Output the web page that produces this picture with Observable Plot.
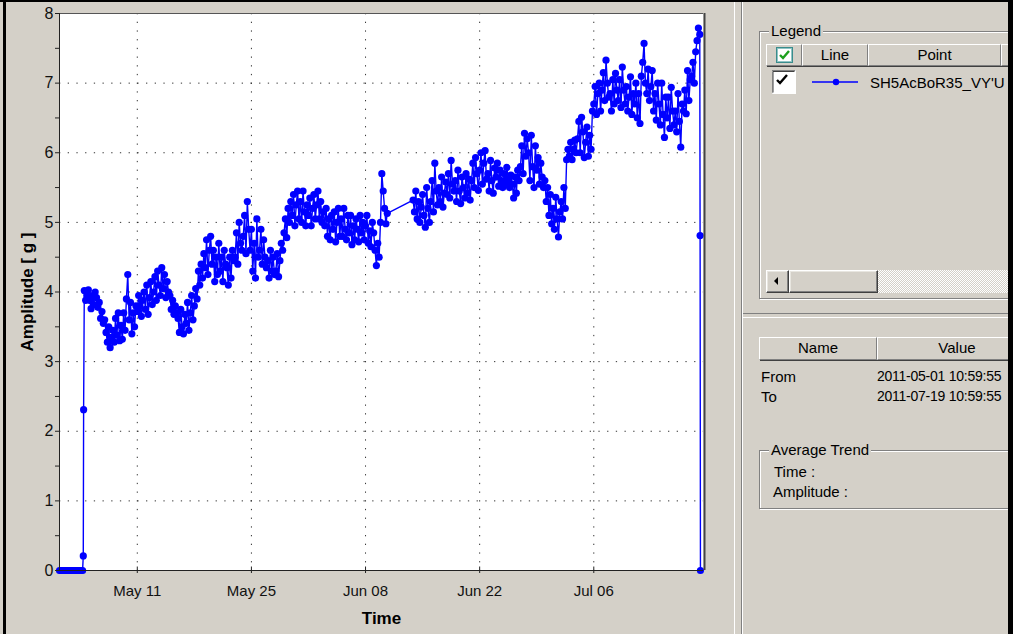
<!DOCTYPE html>
<html><head><meta charset="utf-8">
<script src="https://cdn.jsdelivr.net/npm/d3@7"></script>
<script src="https://cdn.jsdelivr.net/npm/@observablehq/plot@0.6"></script>
<style>
html,body{margin:0;padding:0;background:#d4d0c8;}
#win{position:relative;width:1013px;height:634px;background:#d4d0c8;overflow:hidden;font-family:"Liberation Sans",Arial,sans-serif;font-size:15px;color:#000;}
.a{position:absolute;}
.etch{border:1px solid #808080;box-shadow:1px 1px 0 #fff, inset 1px 1px 0 #fff;}
.hdr{background:#d4d0c8;border-top:1px solid #fff;border-left:1px solid #fff;border-right:1px solid #808080;border-bottom:1px solid #808080;box-shadow:1px 1px 0 #404040;box-sizing:border-box;text-align:center;line-height:19px;}
.btn{background:#d4d0c8;box-sizing:border-box;border:1px solid;border-color:#fff #404040 #404040 #fff;box-shadow:inset -1px -1px 0 #808080, inset 1px 1px 0 #e8e6e0;}
.lbl{background:#d4d0c8;padding:0 2px;white-space:nowrap;line-height:17px;}
.t{white-space:nowrap;line-height:17px;}
.v{white-space:nowrap;line-height:17px;font-size:14px;letter-spacing:-0.25px;}
</style></head>
<body>
<div id="win">
  <div id="chart" class="a" style="left:0;top:0;"></div>

  <!-- pane separators -->
  <div class="a" style="left:734px;top:2px;width:1px;height:632px;background:#fff;"></div>
  <div class="a" style="left:741px;top:2px;width:1px;height:632px;background:#808080;"></div>
  <div class="a" style="left:742px;top:2px;width:1px;height:632px;background:#fff;"></div>
  <div class="a" style="left:743px;top:313px;width:270px;height:1px;background:#808080;"></div>
  <div class="a" style="left:743px;top:317px;width:270px;height:1px;background:#fff;"></div>

  <!-- Legend group -->
  <div class="a etch" style="left:759px;top:31px;width:280px;height:266px;"></div>
  <div class="a lbl" style="left:769px;top:22px;">Legend</div>
  <div class="a hdr" style="left:766px;top:44px;width:36px;height:22px;"></div>
  <svg class="a" style="left:776px;top:47px;" width="17" height="16"><rect x="0.5" y="0.5" width="16" height="15" fill="#fff" stroke="#3a8c8c"/><rect x="1.5" y="1.5" width="14" height="13" fill="none" stroke="#8fc4c4"/><path d="M4 8 L7 11 L13 4" fill="none" stroke="#1ea01e" stroke-width="2.4"/></svg>
  <div class="a hdr" style="left:802px;top:44px;width:66px;height:22px;">Line</div>
  <div class="a hdr" style="left:868px;top:44px;width:133px;height:22px;">Point</div>
  <div class="a hdr" style="left:1001px;top:44px;width:40px;height:22px;"></div>
  <svg class="a" style="left:772px;top:70px;" width="24" height="24"><rect x="0" y="0" width="24" height="24" fill="#fff"/><path d="M0 23.5 V0.5 H23.5" fill="none" stroke="#808080"/><path d="M1 22.5 V1.5 H22.5" fill="none" stroke="#404040"/><path d="M0.5 23.5 H23.5 V0.5" fill="none" stroke="#fff"/><path d="M5 10 L8 13 L15 5" fill="none" stroke="#000" stroke-width="2.4"/></svg>
  <svg class="a" style="left:812px;top:76px;" width="46" height="12"><line x1="0" y1="6" x2="46" y2="6" stroke="#0000ff" stroke-width="1.3"/><circle cx="24" cy="6" r="3.2" fill="#0000ff"/></svg>
  <div class="a t" style="left:870px;top:74px;">SH5AcBoR35_VY'U</div>
  <!-- scrollbar -->
  <div class="a" style="left:878px;top:270px;width:140px;height:23px;background-color:#fff;background-image:repeating-conic-gradient(#d4d0c8 0 25%, #fff 0 50%);background-size:2px 2px;"></div>
  <div class="a btn" style="left:766px;top:270px;width:23px;height:23px;"></div>
  <div class="a" style="left:774px;top:277px;width:0;height:0;border-top:4px solid transparent;border-bottom:4px solid transparent;border-right:4px solid #000;"></div>
  <div class="a btn" style="left:789px;top:270px;width:89px;height:23px;"></div>

  <!-- Lower pane -->
  <div class="a hdr" style="left:759px;top:337px;width:118px;height:23px;line-height:20px;">Name</div>
  <div class="a hdr" style="left:877px;top:337px;width:160px;height:23px;line-height:20px;">Value</div>
  <div class="a t" style="left:761px;top:368px;">From</div>
  <div class="a t" style="left:761px;top:388px;">To</div>
  <div class="a v" style="left:877px;top:368px;">2011-05-01 10:59:55</div>
  <div class="a v" style="left:877px;top:388px;">2011-07-19 10:59:55</div>
  <div class="a etch" style="left:759px;top:450px;width:280px;height:57px;"></div>
  <div class="a lbl" style="left:769px;top:441px;">Average Trend</div>
  <div class="a t" style="left:774px;top:463px;">Time :</div>
  <div class="a t" style="left:773px;top:483px;">Amplitude :</div>

  <!-- window frame -->
  <div class="a" style="left:0;top:0;width:1013px;height:2px;background:#000;"></div>
  <div class="a" style="left:3px;top:0;width:3px;height:634px;background:#000;"></div>
  <div class="a" style="left:1008px;top:0;width:5px;height:634px;background:#000;"></div>
</div>
<script>
// ---- data ----
const rangeFrom = "2011-05-01T10:59:55Z";
const rangeTo = "2011-07-19T10:59:55Z";
const xTickDates = ["2011-05-11", "2011-05-25", "2011-06-08", "2011-06-22", "2011-07-06"];
const yMajorTicks = [0, 1, 2, 3, 4, 5, 6, 7, 8];
const yMinorTicks = [0.5, 1.5, 2.5, 3.5, 4.5, 5.5, 6.5, 7.5];
const yGridLines = [1, 2, 3, 4, 5, 6, 7];

// sensor idle before start (every 4 h from May 1 11:00)
const leadZeros = [0,0,0,0,0,0,0,0,0,0,0,0,0,0,0,0,0,0];
// ramp up, hourly from May 4 09:00
const rampUp = [0.21, 2.31];
// every 4 h from May 4 12:00 to Jun 10 16:00 (one row per day)
const ampMayJun = [
  4.02, 3.88, 3.95,
  4.03, 3.88, 3.76, 3.95, 3.82, 4.0,
  3.92, 3.78, 3.85, 3.62, 3.72, 3.55,
  3.6, 3.42, 3.28, 3.5, 3.2, 3.35,
  3.45, 3.28, 3.62, 3.38, 3.7, 3.3,
  3.52, 3.32, 3.7, 3.45, 3.9, 4.25,
  3.6, 3.85, 3.4, 3.7, 3.5, 3.8,
  3.72, 3.95, 3.8, 3.65, 3.88, 4.0,
  3.75, 4.1, 3.68, 3.92, 4.15, 3.82,
  4.0, 4.22, 3.88, 4.3, 4.1, 3.95,
  4.35, 4.05, 4.25, 3.92, 4.15, 4.0,
  3.95, 3.75, 3.88, 3.68, 3.8, 3.7,
  3.62, 3.42, 3.75, 3.5, 3.4, 3.68,
  3.55, 3.85, 3.45, 3.7, 3.95, 3.6,
  3.8, 4.05, 3.9, 4.3, 4.1, 4.4,
  4.2, 4.55, 4.35, 4.75, 4.25, 4.6,
  4.8, 4.4, 4.6, 4.15, 4.5, 4.25,
  4.7, 4.3, 4.5, 4.15, 4.6, 4.4,
  4.35, 4.1, 4.5, 4.2, 4.6, 4.45,
  4.5, 4.85, 4.4, 5.0, 4.7, 4.6,
  4.8, 5.1, 4.55, 5.3, 4.9, 4.6,
  4.9, 4.3, 4.7, 4.2, 5.05, 4.5,
  4.6, 4.9, 4.4, 4.75, 4.5, 4.35,
  4.45, 4.2, 4.6, 4.3, 4.5, 4.25,
  4.3, 4.55, 4.22, 4.45, 4.7, 4.6,
  4.85, 5.05, 4.78, 5.2, 5.0, 5.3,
  5.1, 5.4, 4.95, 5.25, 5.45, 5.05,
  5.3, 5.0, 5.45, 5.15, 4.95, 5.25,
  5.1, 5.35, 4.95, 5.2, 5.4, 5.05,
  5.25, 5.45, 5.05, 5.3, 5.0, 5.15,
  4.95, 5.2, 4.8, 5.05, 4.75, 5.1,
  4.9, 5.15, 4.72, 5.0, 5.2, 4.8,
  5.05, 4.8, 5.2, 4.9, 4.75, 5.1,
  4.85, 5.1, 4.68, 4.95, 4.75, 5.05,
  4.9, 4.72, 5.1, 4.85, 5.0, 4.75,
  4.95, 5.1, 4.7, 4.88, 4.65, 5.0,
  4.85, 4.6, 4.38, 4.7, 4.5, 5.0,
  5.7, 5.45, 5.2, 4.98, 5.13
];
// every 4 h from Jun 13 20:00 to Jul 19 00:00 (one row per day)
const ampJunJul = [
  5.32,
  5.15, 5.45, 5.05, 5.3, 5.0, 5.22,
  5.4, 5.1, 4.93, 5.5, 5.2, 5.0,
  5.3, 5.6, 5.15, 5.85, 5.45, 5.25,
  5.5, 5.3, 5.65, 5.22, 5.42, 5.58,
  5.4, 5.7, 5.35, 5.89, 5.55, 5.45,
  5.6, 5.3, 5.75, 5.45, 5.27, 5.65,
  5.5, 5.35, 5.7, 5.42, 5.62, 5.32,
  5.6, 5.85, 5.5, 5.93, 5.7, 5.46,
  5.75, 6.0, 5.55, 5.85, 6.03, 5.62,
  5.7, 5.45, 5.89, 5.6, 5.42, 5.78,
  5.65, 5.85, 5.52, 5.75, 5.6, 5.5,
  5.7, 5.55, 5.79, 5.62, 5.5, 5.68,
  5.55, 5.35, 5.65, 5.42, 5.75, 5.6,
  5.8, 6.1, 5.7, 6.28, 5.95, 6.2,
  6.0, 5.6, 6.25, 5.8, 5.5, 6.1,
  5.75, 5.93, 5.55, 5.85, 5.65, 5.5,
  5.6, 5.3, 5.5, 5.1, 5.4, 4.98,
  5.2, 4.9, 5.36, 5.05, 4.79, 5.15,
  5.3, 5.05, 5.5, 5.2, 5.9, 6.05,
  5.95, 6.15, 5.9, 6.05, 6.18, 6.0,
  6.2, 6.45, 6.0, 6.51, 6.3, 5.93,
  6.15, 6.37, 5.95, 6.25, 6.05, 6.6,
  6.7, 6.95, 6.55, 6.85, 7.0, 6.6,
  6.9, 7.15, 6.75, 7.33, 7.0, 6.8,
  6.85, 6.6, 7.05, 6.7, 7.14, 6.9,
  6.75, 7.05, 6.65, 7.23, 6.9, 6.7,
  6.95, 6.6, 6.8, 7.09, 6.55, 6.85,
  6.7, 7.0, 6.5, 6.85, 6.42, 7.1,
  7.3, 7.57, 7.0, 6.85, 7.2, 6.75,
  6.95, 7.18, 6.6, 6.85, 6.47, 7.0,
  6.7, 6.4, 7.0, 6.55, 6.22, 6.8,
  6.5, 6.8, 6.35, 6.94, 6.6, 6.4,
  6.6, 6.3, 6.85, 6.45, 6.08, 6.7,
  6.6, 6.9, 6.56, 7.18, 6.75, 7.05,
  7.1, 7.3, 7.0, 7.45, 7.61, 7.79,
  7.7
];
// drop-off, hourly from Jul 19 01:00
const dropOff = [4.81, 0];

// ---- build table ----
const HOUR = 3600e3;
function segment(startIso, stepHours, values) {
  const t0 = new Date(startIso).getTime();
  return values.map((v, i) => ({time: new Date(t0 + i * stepHours * HOUR), amplitude: v}));
}
const data = [
  ...segment("2011-05-01T10:59:55Z", 4, leadZeros),
  ...segment("2011-05-04T09:00:00Z", 1, rampUp),
  ...segment("2011-05-04T12:00:00Z", 4, ampMayJun),
  ...segment("2011-06-13T20:00:00Z", 4, ampJunJul),
  ...segment("2011-07-19T01:00:00Z", 1, dropOff)
];
const ticksX = xTickDates.map(d => new Date(d + "T00:00:00Z"));
const x0 = new Date(rangeFrom), x1 = new Date(rangeTo);
const fmt = d3.utcFormat("%b %d");

const chart = Plot.plot({
  width: 720,
  height: 634,
  marginLeft: 59,
  marginTop: 13,
  marginRight: 17,
  marginBottom: 64,
  style: {background: "transparent", fontFamily: "'Liberation Sans', Arial, sans-serif", fontSize: "15px", color: "#111", overflow: "visible"},
  x: {type: "utc", domain: [x0, x1], label: null},
  y: {domain: [0, 8], label: null},
  marks: [
    Plot.frame({fill: "#fff", stroke: "none"}),
    Plot.gridY(yGridLines, {stroke: "#000", strokeOpacity: 0.8, strokeDasharray: "1.3,7.4"}),
    Plot.gridX(ticksX, {stroke: "#000", strokeOpacity: 0.8, strokeDasharray: "1.3,7.4"}),
    Plot.line(data, {x: "time", y: "amplitude", stroke: "#0000ff", strokeWidth: 1.4}),
    Plot.dot(data, {x: "time", y: "amplitude", r: 3.6, fill: "#0000ff", stroke: "none"}),
    Plot.ruleY([8], {stroke: "#555"}),
    Plot.ruleX([x1], {stroke: "#444", strokeWidth: 2, dx: 1}),
    Plot.ruleY([0], {stroke: "#222"}),
    Plot.ruleX([x0], {stroke: "#222"}),
    Plot.axisY(yMajorTicks, {tickSize: 4, tickPadding: 2, fontSize: 16, label: null, stroke: "#222", tickFormat: d => String(d)}),
    Plot.axisY(yMinorTicks, {tickSize: 4, tickFormat: () => "", label: null, stroke: "#222"}),
    Plot.axisX(ticksX, {tickSize: 3, tickPadding: 12, fontSize: 15, tickFormat: fmt, label: null, stroke: "#222"}),
    Plot.ruleX(ticksX, {y1: 0, y2: 0.05, stroke: "#222"}),
    Plot.text(["Amplitude [ g ]"], {frameAnchor: "left", dx: -32, rotate: -90, textAnchor: "middle", lineAnchor: "middle", fontWeight: "bold", fontSize: 17, fill: "#000"}),
    Plot.text(["Time"], {frameAnchor: "bottom", dy: 48, textAnchor: "middle", lineAnchor: "middle", fontWeight: "bold", fontSize: 17, fill: "#000"})
  ]
});
document.getElementById("chart").appendChild(chart);
</script>
</body></html>
